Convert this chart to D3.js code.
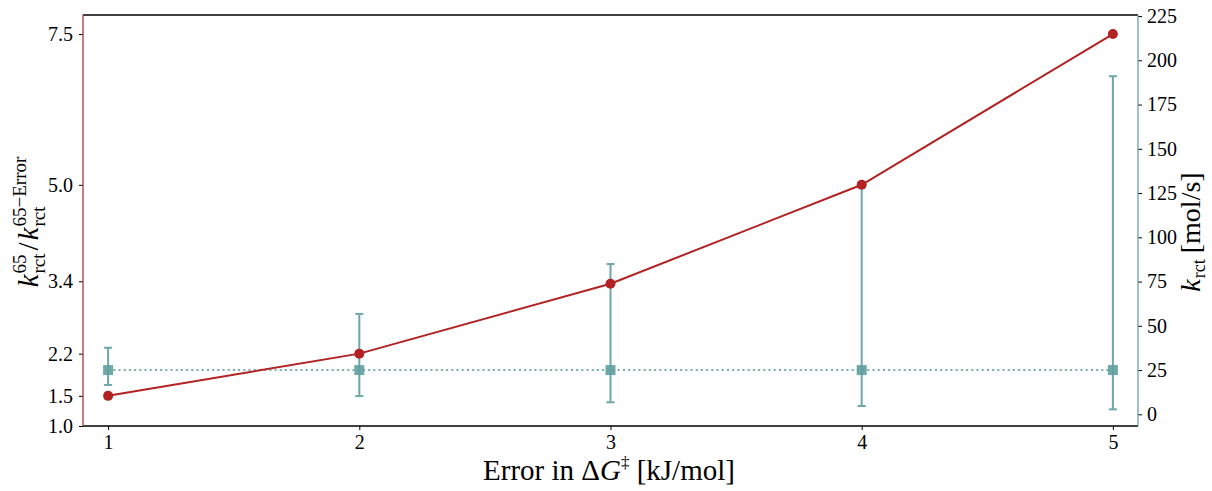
<!DOCTYPE html>
<html><head><meta charset="utf-8">
<script src="https://cdn.jsdelivr.net/npm/d3@7"></script>
<style>body{margin:0;background:#fff}svg{display:block}text{font-family:"Liberation Serif","DejaVu Serif",serif;fill:#000}</style>
</head><body><svg id="c" width="1212" height="491"></svg>
<script>
const errors = [1, 2, 3, 4, 5];
const ratio = [1.5, 2.2, 3.36, 5.0, 7.5];
const kMean = [25, 25, 25, 25, 25];
const kLow = [16.6, 10.3, 6.8, 4.7, 2.8];
const kHigh = [37.6, 56.7, 84.9, 129.5, 191];
const leftTicks = [1.0, 1.5, 2.2, 3.4, 5.0, 7.5];
const rightTicks = [0, 25, 50, 75, 100, 125, 150, 175, 200, 225];
const xTicks = [1, 2, 3, 4, 5];

const red = "#b22222", teal = "#5f9ea0";
const L = 83, T = 15, R = 1138, B = 426;
const svg = d3.select("#c");
const x = d3.scaleLinear().domain([0.9, 5.1]).range([L, R]);
const yL = d3.scaleLinear().domain([1.0, 7.816]).range([B, T]);
const yR = d3.scaleLinear().domain([-6.6, 225.6]).range([B, T]);

// lines
svg.append("path").datum(errors).attr("fill","none").attr("stroke",teal).attr("stroke-width",2)
  .attr("stroke-dasharray","2,3.2").attr("opacity",0.85)
  .attr("d", d3.line().x(d=>x(d)).y((d,i)=>yR(kMean[i])));
// error bars
const eb = svg.append("g").attr("stroke",teal).attr("stroke-width",2).attr("opacity",0.9);
errors.forEach((e,i)=>{
  eb.append("line").attr("x1",x(e)).attr("x2",x(e)).attr("y1",yR(kLow[i])).attr("y2",yR(kHigh[i]));
  [kLow[i],kHigh[i]].forEach(v=>eb.append("line").attr("x1",x(e)-4).attr("x2",x(e)+4).attr("y1",yR(v)).attr("y2",yR(v)));
});
svg.append("g").selectAll("rect").data(errors).join("rect")
  .attr("x",d=>x(d)-5).attr("y",(d,i)=>yR(kMean[i])-5).attr("width",10).attr("height",10).attr("fill",teal).attr("opacity",0.9);

svg.append("path").datum(errors).attr("fill","none").attr("stroke",red).attr("stroke-width",2)
  .attr("d", d3.line().x(d=>x(d)).y((d,i)=>yL(ratio[i])));
svg.append("g").selectAll("circle").data(errors).join("circle")
  .attr("cx",d=>x(d)).attr("cy",(d,i)=>yL(ratio[i])).attr("r",5).attr("fill",red);

// axes
const fs = "20px";
const ax = svg.append("g").attr("transform",`translate(0,${B})`)
  .call(d3.axisBottom(x).tickValues(xTicks).tickFormat(d3.format("d")).tickSize(4).tickPadding(5));
ax.select(".domain").remove();
ax.selectAll("text").style("font-size",fs).style("font-family","Liberation Serif");
const al = svg.append("g").attr("transform",`translate(${L},0)`)
  .call(d3.axisLeft(yL).tickValues(leftTicks).tickFormat(d3.format(".1f")).tickSize(4).tickPadding(6));
al.select(".domain").remove();
al.selectAll("text").style("font-size",fs).style("font-family","Liberation Serif");
const ar = svg.append("g").attr("transform",`translate(${R},0)`)
  .call(d3.axisRight(yR).tickValues(rightTicks).tickFormat(d3.format("d")).tickSize(4).tickPadding(5));
ar.select(".domain").remove();
ar.selectAll("text").style("font-size",fs).style("font-family","Liberation Serif");

// spines
svg.append("line").attr("x1",L).attr("x2",R).attr("y1",T).attr("y2",T).attr("stroke","#000").attr("stroke-width",1.3);
svg.append("line").attr("x1",L).attr("x2",R).attr("y1",B).attr("y2",B).attr("stroke","#000").attr("stroke-width",1.3);
svg.append("line").attr("x1",L).attr("x2",L).attr("y1",T).attr("y2",B).attr("stroke",red).attr("stroke-opacity",0.6).attr("stroke-width",2);
svg.append("line").attr("x1",R).attr("x2",R).attr("y1",T).attr("y2",B).attr("stroke",teal).attr("stroke-opacity",0.6).attr("stroke-width",2);

// x label
const xl = svg.append("text").attr("x",609).attr("y",480).attr("text-anchor","middle").style("font-size","29px");
xl.append("tspan").text("Error in \u0394");
xl.append("tspan").style("font-style","italic").text("G");
xl.append("tspan").attr("dy",-12).style("font-size","17px").text("\u2021");
xl.append("tspan").attr("dy",12).text(" [kJ/mol]");

// helper to draw k with sub/sup stacked
function kTerm(g, xpos, sup) {
  const k = g.append("text").attr("x",xpos).attr("y",0).style("font-size","29px").style("font-style","italic").text("k");
  const kw = k.node().getComputedTextLength();
  const s1 = g.append("text").attr("x",xpos+kw+1).attr("y",-12).style("font-size","19px").text(sup);
  const s2 = g.append("text").attr("x",xpos+kw+1).attr("y",7).style("font-size","19px").text("rct");
  return xpos + kw + 1 + Math.max(s1.node().getComputedTextLength(), s2.node().getComputedTextLength());
}
// left y label
const gl = svg.append("g");
let p = kTerm(gl, 0, "65");
const sl = gl.append("text").attr("x",p+3).attr("y",0).style("font-size","29px").text("/");
p = p + 3 + sl.node().getComputedTextLength() + 2;
p = kTerm(gl, p, "65\u2212Error");
gl.attr("transform",`translate(38,${222 + p/2}) rotate(-90)`);

// right y label
const gr = svg.append("g");
const k2 = gr.append("text").attr("x",0).attr("y",0).style("font-size","28px").style("font-style","italic").text("k");
const kw2 = k2.node().getComputedTextLength();
const sub = gr.append("text").attr("x",kw2+1).attr("y",5).style("font-size","18px").text("rct");
const q = kw2 + 1 + sub.node().getComputedTextLength();
const br = gr.append("text").attr("x",q+6).attr("y",0).style("font-size","28px").text("[mol/s]");
const tot = q + 6 + br.node().getComputedTextLength();
gr.attr("transform",`translate(1200,${232 + tot/2}) rotate(-90)`);
</script></body></html>
